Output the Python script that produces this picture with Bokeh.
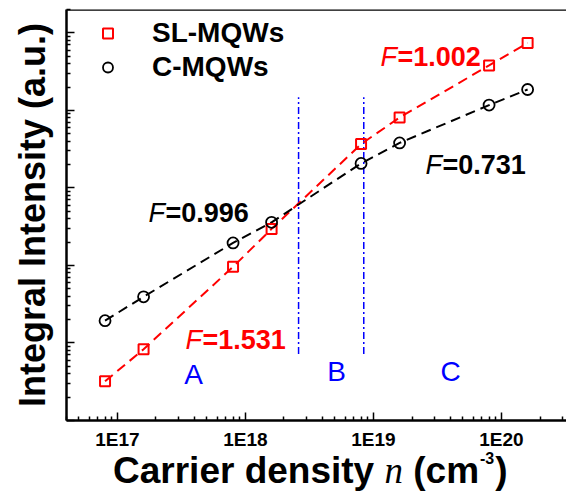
import math
from bokeh.plotting import figure
from bokeh.layouts import column
from bokeh.models import (Legend, LegendItem, Label, Span, FixedTicker,
                          CustomJSTickFormatter, Div)
from bokeh.embed import file_html
from bokeh.resources import INLINE

# ---- data ----
density = [8e16, 1.6e17, 8e17, 1.6e18, 8e18, 1.6e19, 8e19, 1.6e20]
sl_mqws = [3.2e3, 8.3e3, 9.6e4, 2.96e5, 3.67e6, 8.1e6, 3.8e7, 7.4e7]
c_mqws = [1.94e4, 3.94e4, 1.95e5, 3.6e5, 2.07e6, 3.8e6, 1.17e7, 1.86e7]
region_bounds = [2.6e18, 8.4e18]
bound_span = [7.2e3, 1.48e7]
region_names = ["A", "B", "C"]
fit_values = ["1.002", "0.731", "0.996", "1.531"]
x_major = [1e17, 1e18, 1e19, 1e20]
x_tick_labels = ["1E17", "1E18", "1E19", "1E20"]
y_major = [1e3, 1e4, 1e5, 1e6, 1e7, 1e8]

SANS = "Liberation Sans"
SERIF = "Liberation Serif"

x_minor = [m * 10.0 ** k for k in range(16, 21) for m in range(2, 10)]
y_minor = [m * 10.0 ** k for k in range(3, 9) for m in range(2, 10)]

X0, X1 = 4.0e16, 3.22e20
Y0, Y1 = 1e3, 2e8

p = figure(width=566, height=452, x_axis_type="log", y_axis_type="log",
           x_range=(X0, X1), y_range=(Y0, Y1),
           output_backend="svg", toolbar_location=None,
           min_border_left=66, min_border_right=0, min_border_top=9,
           min_border_bottom=31)
p.outline_line_color = None
p.xgrid.visible = False
p.ygrid.visible = False
p.background_fill_color = "white"
p.border_fill_color = "white"

# axes
for ax in (p.xaxis[0], p.yaxis[0]):
    ax.axis_line_width = 2.5
    ax.major_tick_in = 8
    ax.major_tick_out = 0
    ax.minor_tick_in = 4
    ax.minor_tick_out = 0
    ax.major_tick_line_width = 1.5
    ax.minor_tick_line_width = 1.5

p.xaxis[0].ticker = FixedTicker(ticks=x_major, minor_ticks=x_minor)
p.yaxis[0].ticker = FixedTicker(ticks=y_major, minor_ticks=y_minor)
p.xaxis[0].formatter = CustomJSTickFormatter(
    args=dict(xvals=x_major, xlabels=x_tick_labels),
    code="const i = xvals.findIndex(t => Math.abs(t - tick) / t < 1e-6); return i >= 0 ? xlabels[i] : '';")
p.xaxis[0].major_label_text_font = SANS
p.xaxis[0].major_label_text_font_style = "bold"
p.xaxis[0].major_label_text_font_size = "19px"
p.xaxis[0].major_label_standoff = 8
p.xaxis[0].major_label_text_color = "black"

yax = p.yaxis[0]
yax.formatter = CustomJSTickFormatter(code="return '';")
yax.major_label_text_font_size = "0px"
yax.major_label_standoff = 0
yax.axis_label = "Integral Intensity (a.u.)"
yax.axis_label_text_font = SANS
yax.axis_label_text_font_style = "bold"
yax.axis_label_text_font_size = "36px"
yax.axis_label_text_color = "black"
yax.axis_label_standoff = 14

# top border
p.add_layout(Span(location=Y1, dimension="width", line_color="black", line_width=2.5))

# region boundaries
p.segment(x0=region_bounds, y0=[bound_span[0]] * 2, x1=region_bounds, y1=[bound_span[1]] * 2,
          line_color="blue", line_width=1.5, line_dash="7 3 2 3")

# series
p.line(density, sl_mqws, line_color="red", line_width=2, line_dash="10 6")
p.line(density, c_mqws, line_color="black", line_width=2, line_dash="10 6")
r_sl = p.scatter(density, sl_mqws, marker="square", size=10, line_color="red",
                 fill_color=None, line_width=2)
r_c = p.scatter(density, c_mqws, marker="circle", size=11, line_color="black",
                fill_color=None, line_width=1.8)

legend = Legend(items=[LegendItem(label="SL-MQWs", renderers=[r_sl]),
                       LegendItem(label="C-MQWs", renderers=[r_c])],
                location=(29, 336), orientation="vertical",
                border_line_color=None, background_fill_alpha=0,
                padding=0, margin=0, spacing=0,
                glyph_width=25, glyph_height=34, label_height=34,
                label_standoff=32, label_text_font=SANS, label_text_color="black",
                label_text_font_style="bold", label_text_font_size="28px")
p.add_layout(legend)

# fit labels (screen units relative to frame bottom-left)
fit_pos = [(314, 364, "red"), (359, 256, "black"), (82, 208, "black"), (119, 81, "red")]
for val, (sx, sy, col) in zip(fit_values, fit_pos):
    p.add_layout(Label(x=sx, y=sy, x_units="screen", y_units="screen", text="F",
                       text_font=SANS, text_font_style="italic", text_font_size="27px",
                       text_color=col, text_baseline="alphabetic", text_align="left"))
    p.add_layout(Label(x=sx + 17, y=sy, x_units="screen", y_units="screen", text="=" + val,
                       text_font=SANS, text_font_style="bold", text_font_size="27px",
                       text_color=col, text_baseline="alphabetic", text_align="left"))

# region labels
region_pos = [(127, 46), (270, 49), (384, 49)]
for name, (sx, sy) in zip(region_names, region_pos):
    p.add_layout(Label(x=sx, y=sy, x_units="screen", y_units="screen", text=name,
                       text_font=SANS, text_font_size="28px", text_color="blue",
                       text_baseline="alphabetic", text_align="center"))

# x axis title (rich text: italic serif n and superscript)
xtitle = Div(
    text=("<div style=\"padding-left:113px; font-family:'Liberation Sans'; font-weight:bold; "
          "font-size:37px; line-height:38px; white-space:nowrap; color:black;\">"
          "Carrier density "
          "<span style=\"font-family:'Liberation Serif'; font-style:italic; font-weight:normal;\">n</span>"
          " (cm<span style=\"position:relative; top:-19px; font-size:16px; margin-left:1px;\">-3</span>"
          "<span style=\"margin-left:1px;\">)</span>"
          "</div>"),
    width=566, height=42, margin=(0, 0, 0, 0))

layout = column(p, xtitle, spacing=0)
open("out.html", "w").write(file_html(layout, INLINE))
